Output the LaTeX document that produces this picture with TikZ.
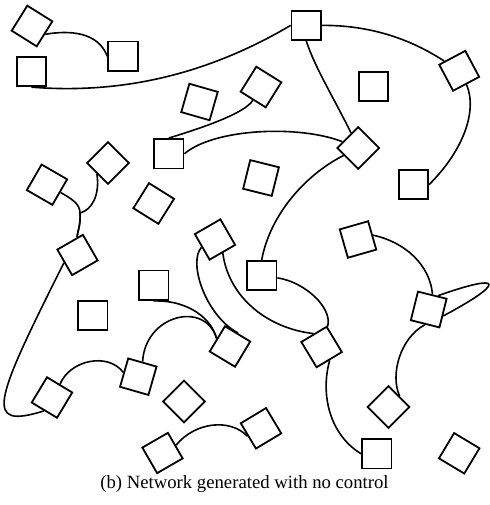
\documentclass[tikz,border=0pt]{standalone}
\usepackage{fontspec}
\setmainfont{Liberation Serif}
\begin{document}
\begin{tikzpicture}[x=1pt,y=1pt,
  sq/.style={draw, line width=1.8pt, minimum size=29.5pt, inner sep=0pt, fill=white},
  link/.style={line width=1.6pt}]
\fill[white] (0,0) rectangle (489,-505);
\useasboundingbox (0,0) rectangle (489,-505);

% nodes of the network
\node[sq, rotate=-32] (A)  at (32,-26) {};
\node[sq]             (B)  at (31.5,-71.5) {};
\node[sq]             (C)  at (123,-56.3) {};
\node[sq]             (D)  at (306.3,-25.4) {};
\node[sq, rotate=28]  (E)  at (459.2,-70.8) {};
\node[sq]             (F)  at (373.5,-86.5) {};
\node[sq, rotate=-32] (G)  at (261,-87) {};
\node[sq, rotate=-16] (H)  at (199.5,-102) {};
\node[sq]             (I)  at (168.8,-153.7) {};
\node[sq, rotate=45]  (J)  at (358.3,-148) {};
\node[sq]             (K)  at (413.5,-184.5) {};
\node[sq, rotate=-14] (L)  at (261,-178) {};
\node[sq, rotate=-32] (M)  at (153.7,-203.5) {};
\node[sq, rotate=45]  (N)  at (108,-163) {};
\node[sq, rotate=-30] (O)  at (47,-184.7) {};
\node[sq, rotate=30]  (P)  at (77.5,-255) {};
\node[sq, rotate=30]  (R)  at (215,-239.5) {};
\node[sq]             (S)  at (261.7,-275.5) {};
\node[sq]             (T)  at (153.7,-285.3) {};
\node[sq, rotate=-31] (U)  at (230,-346.5) {};
\node[sq, rotate=31]  (V)  at (321.6,-347) {};
\node[sq]             (W)  at (92.8,-315.5) {};
\node[sq, rotate=-31] (Y)  at (52,-397.5) {};
\node[sq, rotate=-16] (Z)  at (138.3,-376.7) {};
\node[sq, rotate=45]  (AA) at (184,-401.5) {};
\node[sq, rotate=30]  (AB) at (162.5,-453) {};
\node[sq, rotate=31]  (AC) at (261,-428.3) {};
\node[sq, rotate=16]  (AE) at (358,-239.5) {};
\node[sq, rotate=-14] (AF) at (428.7,-309.5) {};
\node[sq, rotate=45]  (AH) at (388.5,-407) {};
\node[sq]             (AI) at (376.8,-453.8) {};
\node[sq, rotate=-31] (AJ) at (459.2,-453.3) {};

% point where the links from N and O merge before reaching P
\coordinate (jn) at (80,-213);

% links
\draw[link] (A.east) .. controls (70,-30) and (98,-32) .. (C.west);
\draw[link] (B.south) .. controls (130,-95) and (215,-70) .. (D.west);
\draw[link] (D.east) .. controls (378,-25) and (418,-44) .. (E);
\draw[link] (E.south) .. controls (478,-112) and (462,-152) .. (K.east);
\draw[link] (D.south) .. controls (315,-68) and (335,-100) .. (J);
\draw[link] (I.north) .. controls (205,-127) and (245,-113) .. (G);
\draw[link] (I.east) .. controls (215,-128) and (300,-125) .. (J);
\draw[link] (J) .. controls (305,-175) and (270,-215) .. (S.north);
\draw[link] (O) .. controls (72,-199) and (80,-204) .. (jn)
                .. controls (81,-225) and (77,-233) .. (P);
\draw[link] (N.west) .. controls (100,-195) and (92,-210) .. (jn)
                .. controls (81,-225) and (77,-233) .. (P);
\draw[link] (P.west) .. controls (-6.7,-403.3) and (-16.7,-429.7) .. (Y.south);
\draw[link] (Y.north) .. controls (70,-360) and (108,-352) .. (Z.west);
\draw[link] (Z.north) .. controls (145,-315) and (205,-300) .. (U.west);
\draw[link] (T.south) .. controls (190,-300) and (212,-320) .. (U.west);
\draw[link] (R.west) .. controls (188,-262) and (205,-315) .. (U.north);
\draw[link] (R.south) .. controls (228,-295) and (265,-328) .. (V.north);
\draw[link] (S) .. controls (305,-282) and (333,-308) .. (V);
\draw[link] (V.south) .. controls (320,-395) and (330,-435) .. (AI.west);
\draw[link] (AE.east) .. controls (405,-242) and (430,-265) .. (AF.north);
\draw[link] (AF.south) .. controls (400,-338) and (390,-375) .. (AH.east);
\draw[link] (AF.70) .. controls (505,-272) and (505,-283) .. (AF.-10);
\draw[link] (AB.east) .. controls (195,-422) and (230,-418) .. (AC.west);

\node[font=\fontsize{18.7}{22}\selectfont, anchor=base] (cap) at (244.5,-488)
  {(b) Network generated with no control};
\end{tikzpicture}
\end{document}
